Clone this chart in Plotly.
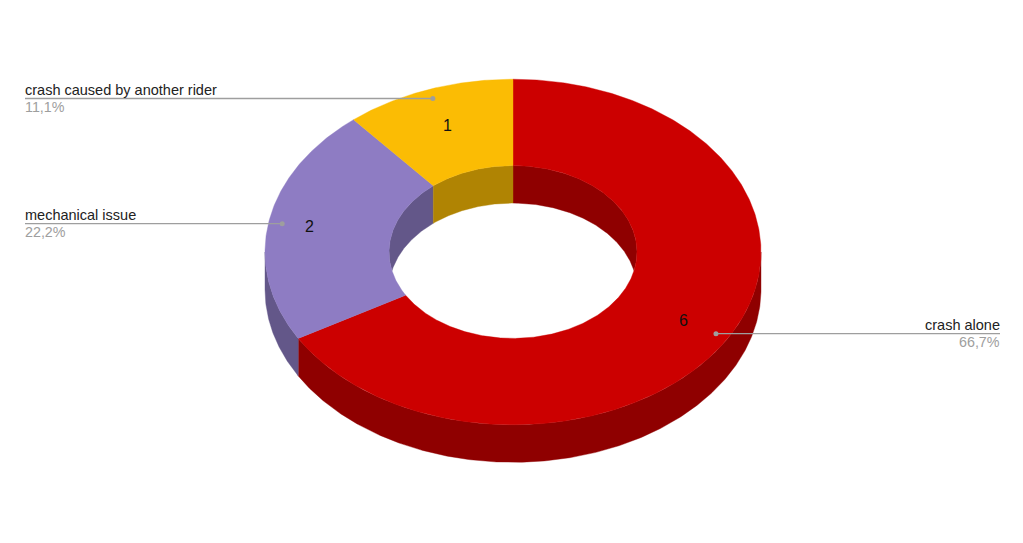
import numpy as np
import plotly.graph_objects as go

# --- data ---
categories = ["crash alone", "mechanical issue", "crash caused by another rider"]
values = [6, 2, 1]

# --- styles and chart geometry (pixel-unit axes) ---
top_colors = ["#cc0000", "#8e7cc3", "#fbbc04"]
side_colors = ["#8f0000", "#635789", "#b08403"]
CX, CY = 513.0, 252.0
RX, RY = 248.0, 172.8
HOLE = 0.5
DEPTH = 37.5
LEADER_F = 0.945
VALUE_F = [0.796, 0.835, 0.778]
LEFT_X, RIGHT_X = 25, 1000
DARK_TEXT, GREY_TEXT, LEADER = "#222222", "#9e9e9e", "#9e9e9e"
FONT = "Liberation Sans, Arial, sans-serif"


def pt(theta_deg, f=1.0, dy=0.0):
    t = np.radians(theta_deg)
    return CX + RX * f * np.sin(t), CY - RY * f * np.cos(t) + dy


def arc(a, b, f=1.0, dy=0.0):
    n = max(int(abs(b - a) * 2), 2)
    return pt(np.linspace(a, b, n), f, dy)


def add_poly(fig, xs, ys, color):
    fig.add_trace(go.Scatter(
        x=np.r_[xs, xs[0]], y=np.r_[ys, ys[0]], mode="lines", fill="toself",
        fillcolor=color, line=dict(color=color, width=0.4),
        hoverinfo="skip", showlegend=False))


total = sum(values)
edges = np.r_[0, np.cumsum(values)] / total * 360.0

fig = go.Figure()

# outer wall (front half, 90..270 degrees clockwise from the top)
for i in range(len(values)):
    a, b = max(edges[i], 90), min(edges[i + 1], 270)
    if b > a:
        x1, y1 = arc(a, b, 1.0, 0)
        x2, y2 = arc(b, a, 1.0, DEPTH)
        add_poly(fig, np.r_[x1, x2], np.r_[y1, y2], side_colors[i])

# inner wall (back half of the hole, seen through the opening)
cross = np.degrees(np.arccos(DEPTH / 2 / (RY * HOLE)))  # where shifted rim meets the top rim
top_lim, low_lim = 90 + (90 - cross), cross
for i in range(len(values)):
    for shift in (0, -360):
        a, b = edges[i] + shift, edges[i + 1] + shift
        ta, tb = max(a, -top_lim), min(b, top_lim)
        if tb <= ta:
            continue
        la, lb = max(a, -low_lim), min(b, low_lim)
        x1, y1 = arc(ta, tb, HOLE, 0)
        if lb > la:
            x2, y2 = arc(lb, la, HOLE, DEPTH)
            add_poly(fig, np.r_[x1, x2], np.r_[y1, y2], side_colors[i])
        else:
            add_poly(fig, x1, y1, side_colors[i])

# top face
for i in range(len(values)):
    a, b = edges[i], edges[i + 1]
    x1, y1 = arc(a, b, 1.0)
    x2, y2 = arc(b, a, HOLE)
    add_poly(fig, np.r_[x1, x2], np.r_[y1, y2], top_colors[i])

# leaders, labels
annotations = []
for i, (name, v) in enumerate(zip(categories, values)):
    mid = (edges[i] + edges[i + 1]) / 2
    dx, dy = pt(mid, LEADER_F)
    side_right = dx > CX
    ex = RIGHT_X if side_right else LEFT_X
    fig.add_trace(go.Scatter(
        x=[ex, dx], y=[dy, dy], mode="lines", line=dict(color=LEADER, width=1.4),
        hoverinfo="skip", showlegend=False))
    fig.add_trace(go.Scatter(
        x=[dx], y=[dy], mode="markers", marker=dict(color=LEADER, size=5),
        hoverinfo="skip", showlegend=False))
    pct = f"{v / total * 100:.1f}%".replace(".", ",")
    anchor = "right" if side_right else "left"
    annotations.append(dict(x=ex, y=dy - 1, text=name, xref="x", yref="y", showarrow=False,
                            xanchor=anchor, yanchor="bottom",
                            font=dict(family=FONT, size=14.5, color=DARK_TEXT),
                            borderpad=0, borderwidth=0))
    annotations.append(dict(x=ex, y=dy + 0.5, text=pct, xref="x", yref="y", showarrow=False,
                            xanchor=anchor, yanchor="top",
                            font=dict(family=FONT, size=14.3, color=GREY_TEXT),
                            borderpad=0, borderwidth=0))
    lx, ly = pt(mid, VALUE_F[i])
    annotations.append(dict(x=lx, y=ly, text=str(v), xref="x", yref="y", showarrow=False,
                            xanchor="center", yanchor="middle",
                            font=dict(family=FONT, size=16, color="#111111")))

fig.update_layout(
    width=1023, height=543, margin=dict(l=0, r=0, t=0, b=0),
    paper_bgcolor="white", plot_bgcolor="white", showlegend=False,
    annotations=annotations,
    xaxis=dict(range=[0, 1023], visible=False, fixedrange=True),
    yaxis=dict(range=[543, 0], visible=False, fixedrange=True),
)
fig.write_html("out.html", config=dict(displayModeBar=False),
               post_script="document.body.style.margin='0';document.body.style.overflow='hidden';")
